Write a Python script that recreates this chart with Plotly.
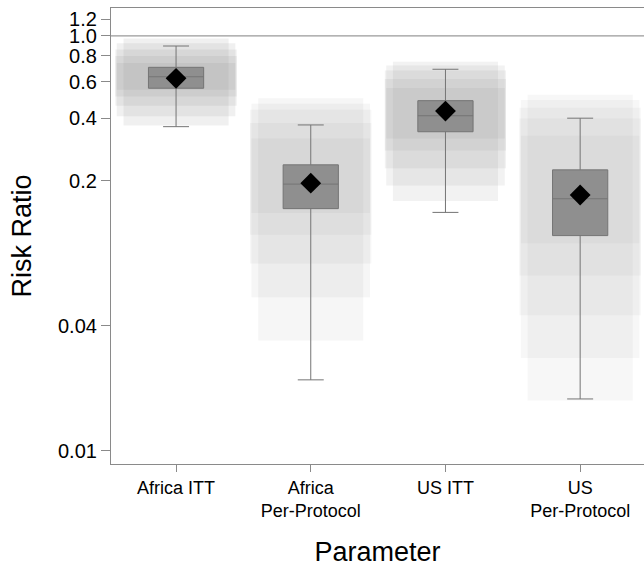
import plotly.graph_objects as go

categories = ["Africa ITT", "Africa<br>Per-Protocol", "US ITT", "US<br>Per-Protocol"]
positions = [0, 1, 2, 3]

# box statistics (risk ratio)
q1 = [0.559, 0.147, 0.345, 0.109]
median = [0.635, 0.193, 0.412, 0.164]
q3 = [0.705, 0.239, 0.487, 0.226]
lower_whisker = [0.365, 0.022, 0.141, 0.0178]
upper_whisker = [0.893, 0.372, 0.690, 0.401]
mean = [0.624, 0.195, 0.434, 0.171]

# extents of the cloud of simulated draws, faint outer band -> dense core
cloud_lo_1 = [0.37, 0.034, 0.160, 0.0175]
cloud_hi_1 = [0.97, 0.50, 0.75, 0.52]
cloud_lo_2 = [0.41, 0.055, 0.19, 0.028]
cloud_hi_2 = [0.92, 0.47, 0.72, 0.49]
cloud_lo_3 = [0.46, 0.080, 0.23, 0.045]
cloud_hi_3 = [0.86, 0.44, 0.68, 0.45]
cloud_lo_4 = [0.51, 0.11, 0.28, 0.070]
cloud_hi_4 = [0.80, 0.38, 0.62, 0.40]
cloud_lo_5 = [0.55, 0.14, 0.32, 0.100]
cloud_hi_5 = [0.74, 0.32, 0.56, 0.33]

cloud_layers = [
    (cloud_lo_1, cloud_hi_1, 0.78),
    (cloud_lo_2, cloud_hi_2, 0.88),
    (cloud_lo_3, cloud_hi_3, 0.9),
    (cloud_lo_4, cloud_hi_4, 0.9),
    (cloud_lo_5, cloud_hi_5, 0.88),
]
layer_alpha = [0.13, 0.08, 0.11, 0.07]

fig = go.Figure()

for lo, hi, w in cloud_layers:
    fig.add_trace(go.Bar(
        x=positions, base=lo, y=[h - l for h, l in zip(hi, lo)],
        width=w,
        marker=dict(color=[f"rgba(140,140,140,{a})" for a in layer_alpha],
                    line=dict(width=0)),
        showlegend=False, hoverinfo="skip"))

for i, p in enumerate(positions):
    fig.add_trace(go.Box(
        x=[p], q1=[q1[i]], median=[median[i]], q3=[q3[i]],
        lowerfence=[lower_whisker[i]], upperfence=[upper_whisker[i]],
        width=0.41, whiskerwidth=0.47, boxpoints=False,
        fillcolor="#8f8f8f", line=dict(color="#747474", width=1),
        showlegend=False))

fig.add_trace(go.Scatter(
    x=positions, y=mean, mode="markers",
    marker=dict(symbol="diamond", size=16, color="black"),
    showlegend=False))

fig.add_hline(y=1.0, line=dict(color="#9a9a9a", width=1.2))

fig.update_layout(
    width=644, height=569,
    margin=dict(l=111, r=0, t=8, b=105),
    plot_bgcolor="white", paper_bgcolor="white",
    barmode="overlay", boxmode="overlay",
    font=dict(family="Arial, Liberation Sans, sans-serif", color="black", size=18),
)

fig.update_xaxes(
    range=[-0.483, 3.474], tickvals=positions, ticktext=categories,
    showgrid=False, zeroline=False, automargin=False,
    showline=True, linecolor="#8a8a8a", linewidth=1.2, mirror=True,
    ticks="outside", ticklen=7, tickcolor="#8a8a8a",
    tickfont=dict(size=18),
    title=dict(text="Parameter", font=dict(size=27), standoff=22),
)

fig.update_yaxes(
    type="log", range=[-2.063, 0.134],
    tickvals=[0.01, 0.04, 0.2, 0.4, 0.6, 0.8, 1.0, 1.2],
    ticktext=["0.01", "0.04", "0.2", "0.4", "0.6", "0.8", "1.0", "1.2"],
    showgrid=False, zeroline=False, automargin=False,
    showline=True, linecolor="#8a8a8a", linewidth=1.2,
    ticks="outside", ticklen=9, tickcolor="#8a8a8a",
    tickfont=dict(size=20),
    title=dict(text="Risk Ratio", font=dict(size=27), standoff=18),
)

fig.write_html("out.html", config={"displayModeBar": False},
               post_script="document.body.style.margin='0px';")
